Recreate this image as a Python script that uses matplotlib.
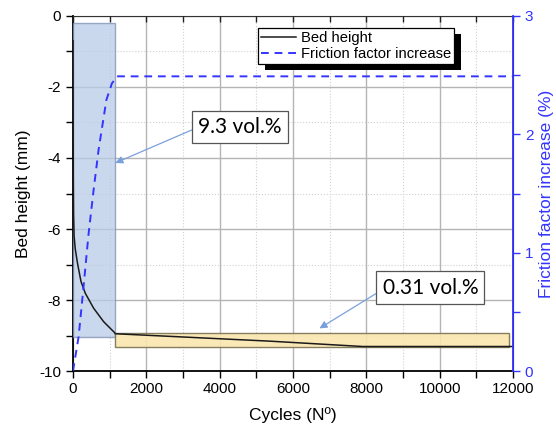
import matplotlib
matplotlib.use("Agg")
import matplotlib.pyplot as plt
from matplotlib.patches import Rectangle
from matplotlib.ticker import MultipleLocator
from matplotlib.transforms import IdentityTransform

plt.rcParams['font.family'] = ['Liberation Sans', 'DejaVu Sans']
plt.rcParams['axes.unicode_minus'] = False

# ---- data ----
bed_cycles = [0, 4, 8, 15, 30, 60, 120, 218, 335, 562, 835, 1135, 1150, 5380, 7900, 12000]
bed_height = [-0.7, -2.8, -4.6, -5.6, -6.2, -6.55, -6.95, -7.48, -7.81, -8.23, -8.61, -8.92, -8.95, -9.16, -9.31, -9.31]

fric_cycles = [0, 153, 290, 425, 562, 698, 910, 1060, 1200, 12000]
fric_increase = [0.0, 0.29, 0.72, 1.16, 1.53, 1.87, 2.29, 2.43, 2.49, 2.49]

# shaded regions: (x0, x1, y_top, y_bottom) in data
blue_region = [0, 1150, -0.2, -9.05]
yellow_region = [1150, 11900, -8.93, -9.32]

x_ticks = [0, 2000, 4000, 6000, 8000, 10000, 12000]
y_ticks = [-10, -8, -6, -4, -2, 0]
y2_ticks = [0, 1, 2, 3]

label_93 = "9.3 vol.%"
label_031 = "0.31 vol.%"

BLUE = '#3434ff'
POS = [0.1313, 0.1372, 0.7914, 0.8256]

fig = plt.figure(figsize=(5.56, 4.30), dpi=100)
ax = fig.add_axes(POS)
ax2 = ax.twinx()

ax.set_xlim(0, 12000)
ax.set_ylim(-10, 0)
ax2.set_ylim(0, 3)

# grid
ax.set_xticks(x_ticks)
ax.set_yticks(y_ticks)
ax.xaxis.set_minor_locator(MultipleLocator(1000))
ax.yaxis.set_minor_locator(MultipleLocator(1))
ax.grid(which='major', color='#b4b4b4', linewidth=1.0, linestyle='-')
ax.grid(which='minor', color='#d0d0d0', linewidth=0.8, linestyle=':')
ax.set_axisbelow(True)

# regions
r1 = Rectangle((blue_region[0], blue_region[3]), blue_region[1] - blue_region[0],
               blue_region[2] - blue_region[3], facecolor='#b9cbe8', alpha=0.75,
               edgecolor='#7d8fb5', linewidth=1.0, zorder=3)
ax.add_patch(r1)
r2 = Rectangle((yellow_region[0], yellow_region[3]), yellow_region[1] - yellow_region[0],
               yellow_region[2] - yellow_region[3], facecolor='#fbe6b0', alpha=0.9,
               edgecolor='#7a7150', linewidth=1.0, zorder=3)
ax.add_patch(r2)

l1, = ax.plot(bed_cycles, bed_height, color='#1a1a1a', linewidth=1.1, zorder=4,
              label='Bed height')
l2, = ax2.plot(fric_cycles, fric_increase, color=BLUE, linewidth=1.4,
               linestyle=(0, (4, 3)), label='Friction factor increase', zorder=4)

# ticks
ax.tick_params(axis='x', which='both', direction='out', top=False, bottom=True,
               labelsize=11, length=5, width=1, pad=3)
ax.tick_params(axis='y', which='both', direction='out', labelsize=11, length=5, width=1)

# inward tick marks along the top spine, every 1000 cycles
top_tick_pos = [k * 1000 for k in range(13)]
ax.vlines(top_tick_pos, 0.982, 1.0, transform=ax.get_xaxis_transform(),
          colors='#222222', linewidth=1.0, zorder=5, clip_on=False)

ax2.set_yticks(y2_ticks)
ax2.yaxis.set_minor_locator(MultipleLocator(0.5))
ax2.tick_params(axis='y', which='both', direction='out', colors=BLUE, labelsize=11,
                length=5, width=1)

for s in ['left', 'bottom']:
    ax.spines[s].set_linewidth(1.3)
    ax.spines[s].set_color('black')
ax.spines['top'].set_color('#333333')
ax2.spines['right'].set_color(BLUE)
ax2.spines['right'].set_linewidth(1.3)
ax2.spines['left'].set_visible(False)
ax2.spines['top'].set_visible(False)
ax2.spines['bottom'].set_visible(False)

ax.set_xlabel('Cycles (Nº)', fontsize=12.5, labelpad=8)
ax.set_ylabel('Bed height (mm)', fontsize=12.5, labelpad=6)
ax2.set_ylabel('Friction factor increase (%)', fontsize=12.5, color=BLUE, labelpad=4)

# annotations
ann_kw = dict(fontsize=15, family=['Lato', 'DejaVu Sans'],
              ha='center', va='center', zorder=6,
              bbox=dict(boxstyle='square,pad=0.3', facecolor='white', edgecolor='#555555', linewidth=0.9))
ax.annotate(label_93, xy=(1153, -4.14), xytext=(4560, -3.13),
            arrowprops=dict(arrowstyle='-|>', color='#7aa0dc', lw=0.9, mutation_scale=11,
                            relpos=(0, 0.5), shrinkA=0, shrinkB=0), **ann_kw)
ax.annotate(label_031, xy=(6720, -8.8), xytext=(9745, -7.65),
            arrowprops=dict(arrowstyle='-|>', color='#7aa0dc', lw=0.9, mutation_scale=11,
                            relpos=(0, 0.4), shrinkA=0, shrinkB=0), **ann_kw)

leg = ax2.legend(handles=[l1, l2], loc='upper left', bbox_to_anchor=(0.42, 0.966),
                 fontsize=10.6, frameon=True, fancybox=False, edgecolor='black',
                 framealpha=1, borderpad=0.2, labelspacing=0.15, handlelength=2.4,
                 handletextpad=0.3, borderaxespad=0)
leg.get_frame().set_linewidth(0.9)
leg.set_zorder(10)

fig.canvas.draw()
bb = leg.get_window_extent()
sh = Rectangle((bb.x0 + 7, bb.y0 - 6), bb.width, bb.height, transform=IdentityTransform(),
               facecolor='black', edgecolor='none', zorder=9, clip_on=False)
ax2.add_patch(sh)

fig.savefig('out.png', dpi=100)
